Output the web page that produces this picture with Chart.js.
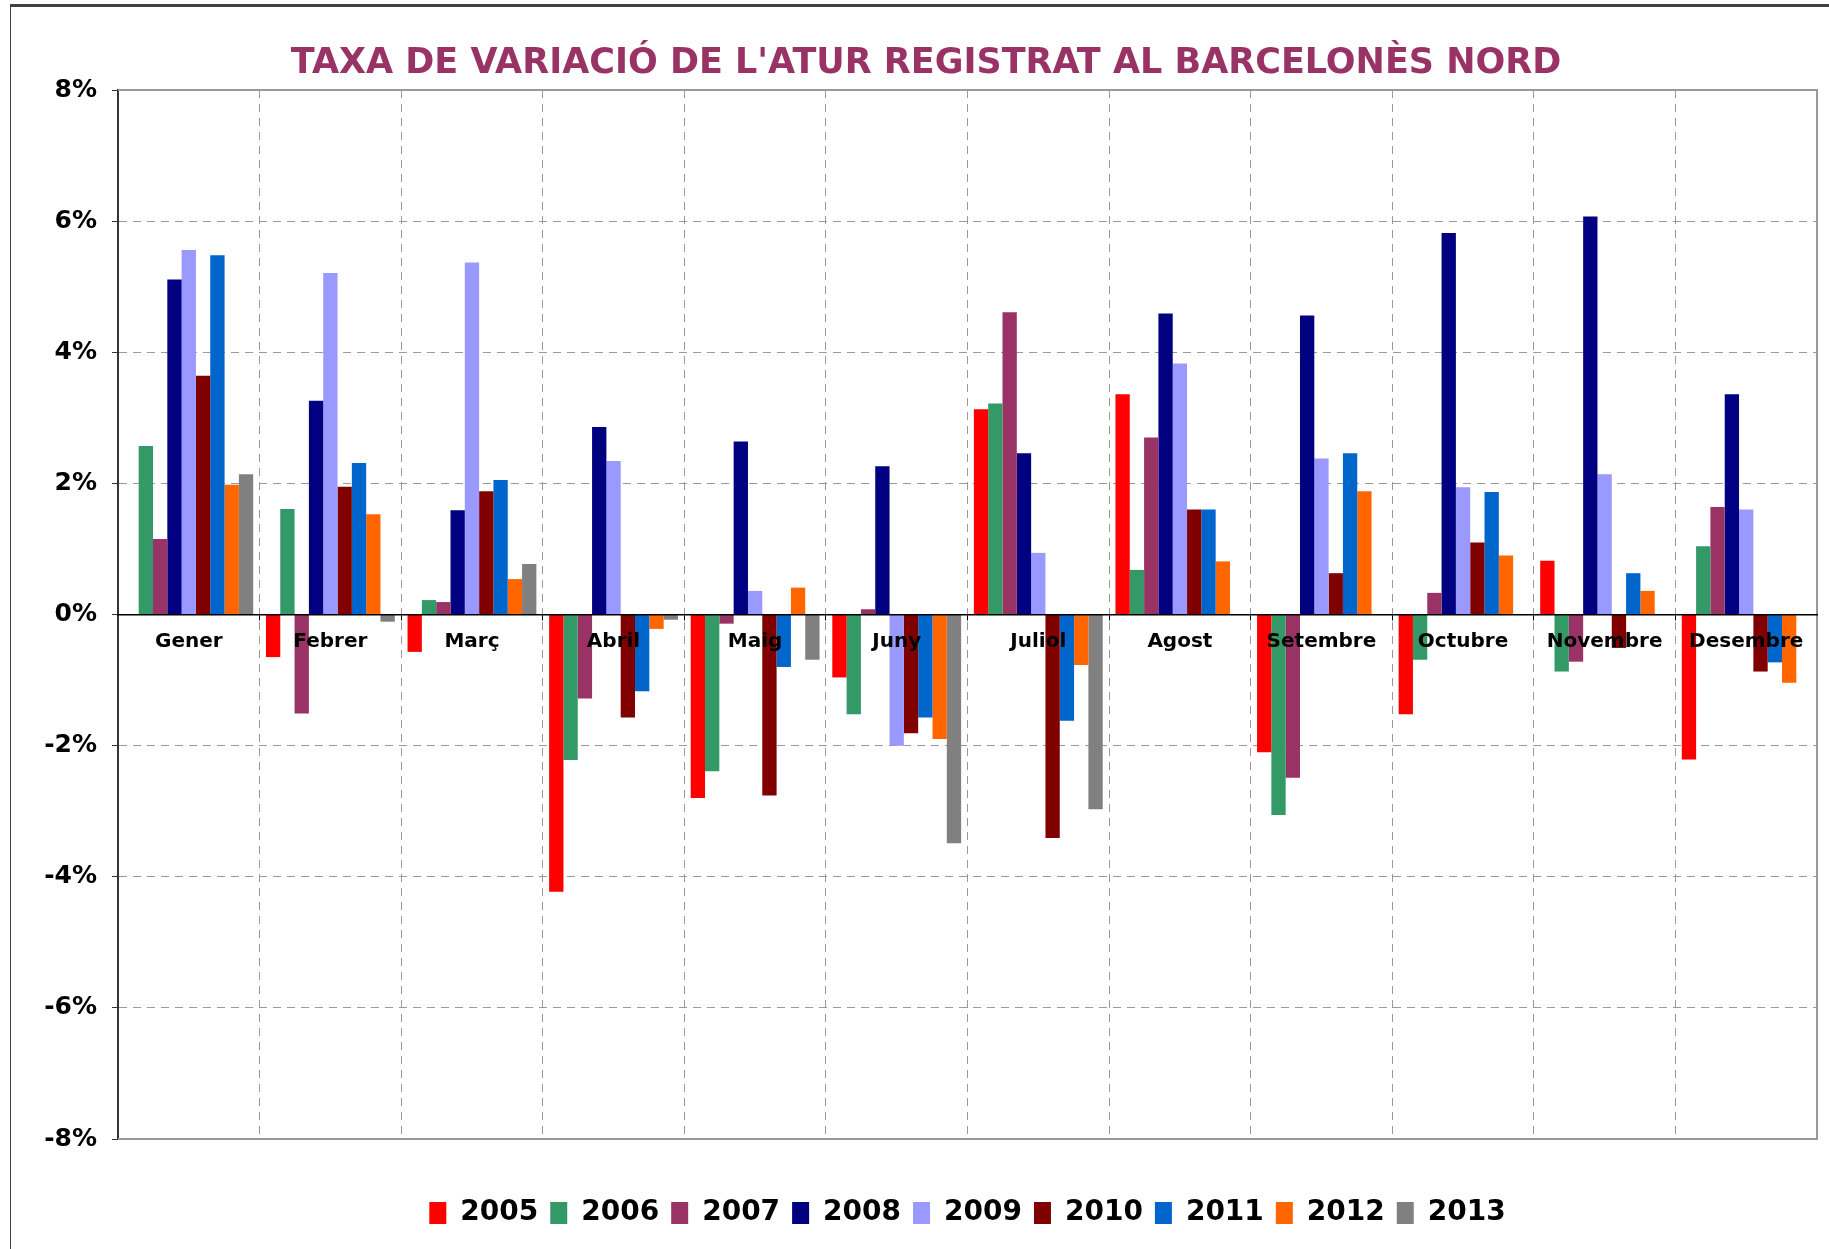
<!DOCTYPE html>
<html lang="ca">
<head>
<meta charset="utf-8">
<title>Taxa de variació de l'atur registrat al Barcelonès Nord</title>
<script src="https://cdn.jsdelivr.net/npm/chart.js@4.4.1/dist/chart.umd.min.js"></script>
<style>
  html, body { margin: 0; padding: 0; background: #fff; }
  #wrap { position: relative; width: 1829px; height: 1249px; overflow: hidden; }
  #marc { position: absolute; left: 10px; top: 4px; right: 0; bottom: 0;
          border-top: 3px solid #404040; border-left: 1px solid #404040; pointer-events: none; }
</style>
</head>
<body>
<div id="wrap">
  <canvas id="grafic" width="1829" height="1249"></canvas>
  <div id="marc"></div>
</div>
<script>
"use strict";

// ═══════════════════════════════════════
// DADES (llegides del gràfic, en %)
// ═══════════════════════════════════════

const MESOS = ["Gener", "Febrer", "Març", "Abril", "Maig", "Juny",
               "Juliol", "Agost", "Setembre", "Octubre", "Novembre", "Desembre"];

const ANYS = ["2005", "2006", "2007", "2008", "2009", "2010", "2011", "2012", "2013"];

const V2005 = [null, -0.65, -0.57, -4.23, -2.80, -0.96,  3.13,  3.36, -2.10, -1.52,  0.82, -2.21];
const V2006 = [2.57,  1.61,  0.22, -2.22, -2.39, -1.52,  3.22,  0.68, -3.06, -0.69, -0.87,  1.04];
const V2007 = [1.15, -1.51,  0.19, -1.28, -0.14,  0.08,  4.61,  2.70, -2.49,  0.33, -0.72,  1.64];
const V2008 = [5.11,  3.26,  1.59,  2.86,  2.64,  2.26,  2.46,  4.59,  4.56,  5.82,  6.07,  3.36];
const V2009 = [5.56,  5.21,  5.37,  2.34,  0.36, -2.00,  0.94,  3.83,  2.38,  1.94,  2.14,  1.60];
const V2010 = [3.64,  1.95,  1.88, -1.57, -2.76, -1.81, -3.41,  1.60,  0.63,  1.10, -0.51, -0.87];
const V2011 = [5.48,  2.31,  2.05, -1.17, -0.80, -1.57, -1.62,  1.60,  2.46,  1.87,  0.63, -0.73];
const V2012 = [1.98,  1.53,  0.54, -0.22,  0.41, -1.90, -0.77,  0.81,  1.88,  0.90,  0.36, -1.04];
const V2013 = [2.14, -0.11,  0.77, -0.08, -0.69, -3.49, -2.97,  null,  null,  null,  null,  null];

const SERIES = [V2005, V2006, V2007, V2008, V2009, V2010, V2011, V2012, V2013];

const COLORS = ["#ff0000", "#339966", "#993366", "#000080", "#9999ff",
                "#800000", "#0066cc", "#ff6600", "#808080"];

const Y_MIN = -8, Y_MAX = 8, Y_STEP = 2;

// ═══════════════════════════════════════
// CONFIG
// ═══════════════════════════════════════

const FONT = "'DejaVu Sans', Verdana, sans-serif";
const DASH = [8, 6];

Chart.defaults.font.family = FONT;
Chart.defaults.color = "#000";

// marc gris del plot (dalt, dreta, baix)
const marcPlot = {
    id: "marcPlot",
    beforeDatasetsDraw(chart) {
        const { ctx, chartArea: a } = chart;
        ctx.save();
        ctx.strokeStyle = "#999";
        ctx.lineWidth = 2;
        ctx.beginPath();
        ctx.moveTo(a.left, a.top);
        ctx.lineTo(a.right, a.top);
        ctx.lineTo(a.right, a.bottom);
        ctx.lineTo(a.left, a.bottom);
        ctx.stroke();
        ctx.restore();
    }
};

const datasets = ANYS.map((any, i) => ({
    label: any,
    data: SERIES[i],
    backgroundColor: COLORS[i],
    borderWidth: 0,
    barPercentage: 1.0,
    categoryPercentage: 0.91
}));

new Chart(document.getElementById("grafic"), {
    type: "bar",
    data: { labels: MESOS, datasets },
    plugins: [marcPlot],
    options: {
        responsive: false,
        animation: false,
        layout: { padding: { left: 35, right: 12, top: 0, bottom: 12 }, autoPadding: false },
        plugins: {
            title: {
                display: true,
                text: "TAXA DE VARIACIÓ DE L'ATUR REGISTRAT AL BARCELONÈS NORD",
                color: "#993366",
                font: { family: FONT, size: 35, weight: "bold" },
                padding: { top: 43, bottom: 5 }
            },
            legend: {
                position: "bottom",
                fullSize: false,
                labels: {
                    boxWidth: 17,
                    boxHeight: 22,
                    padding: 12,
                    color: "#000",
                    font: { family: FONT, size: 28, weight: "bold" }
                }
            },
            tooltip: { enabled: false }
        },
        scales: {
            x: {
                type: "category",
                position: { y: 0 },
                grid: {
                    offset: true,
                    color: c => c.index === 0 ? "rgba(0,0,0,0)" : "#999",
                    lineWidth: 1,
                    drawTicks: true,
                    tickLength: 5,
                    tickColor: "#000",
                    tickBorderDash: []
                },
                border: { display: true, color: "#000", width: 1.5, dash: DASH, z: 1 },
                ticks: {
                    z: 2,
                    autoSkip: false,
                    maxRotation: 0,
                    padding: 10,
                    color: "#000",
                    font: { family: FONT, size: 20, weight: "bold" }
                }
            },
            // eix buit: només reserva l'espai entre el plot i la llegenda
            espai: {
                type: "category",
                position: "bottom",
                labels: MESOS,
                grid: { display: false, drawTicks: false },
                border: { display: false },
                ticks: { display: false },
                afterFit: s => { s.height = 48; }
            },
            y: {
                min: Y_MIN,
                max: Y_MAX,
                grid: {
                    color: "#999",
                    lineWidth: 1,
                    drawTicks: true,
                    tickLength: 6,
                    tickColor: "#333",
                    tickBorderDash: []
                },
                border: { display: true, color: "#333", width: 2, dash: DASH },
                ticks: {
                    stepSize: Y_STEP,
                    padding: 15,
                    color: "#000",
                    font: { family: FONT, size: 25, weight: "bold" },
                    callback: v => v + "%"
                },
                afterFit: s => { s.width = 83; }
            }
        }
    }
});
</script>
</body>
</html>
